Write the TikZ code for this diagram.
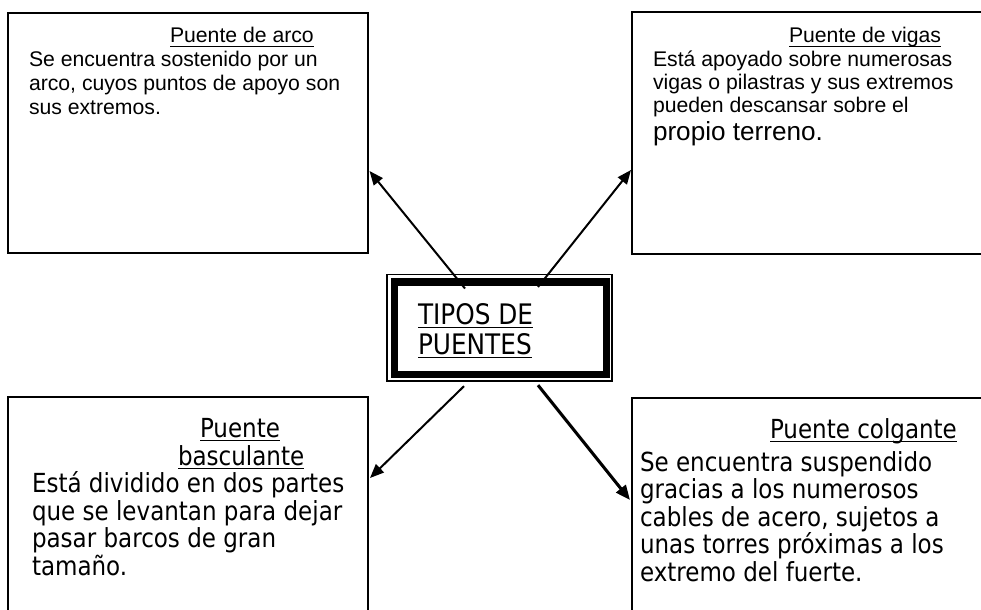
\documentclass[tikz,border=0pt]{standalone}
\usepackage{fontspec}
\setmainfont{Liberation Sans}
\newfontfamily\tah[FakeStretch=0.876]{DejaVu Sans}
\usetikzlibrary{arrows.meta,calc}
\newsavebox\ulbox
\newcommand\myul[1]{\sbox\ulbox{#1}\rlap{\rule[-3pt]{\wd\ulbox}{1.1pt}}\usebox\ulbox}
\newcommand\fA{\fontsize{15.9pt}{19pt}\selectfont}
\newcommand\fAbig{\fontsize{19.6pt}{23pt}\selectfont}
\newcommand\fT{\tah\fontsize{19.7pt}{23pt}\selectfont}
\newcommand\fTc{\tah\fontsize{21.2pt}{24pt}\selectfont}
\begin{document}
\begin{tikzpicture}[x=0.75pt,y=-0.75pt,
  box/.style={draw,line width=1.5pt,outer sep=0pt,inner sep=0pt,anchor=north west},
  txt/.style={inner sep=0pt,outer sep=0pt,anchor=base west},
  arr/.style={line width=1.5pt,-{Triangle[length=10.5pt,width=8.5pt]}},
  arrb/.style={line width=2.3pt,-{Triangle[length=11pt,width=9pt]}}]
\useasboundingbox (0,0) rectangle (981,610);
\clip (0,0) rectangle (981,610);
% boxes
\node[box,minimum width=270pt,minimum height=180pt] (tl) at (8,13) {};
\node[box,minimum width=276pt,minimum height=181.5pt] (tr) at (632,12) {};
\node[box,minimum width=270pt,minimum height=182pt] (bl) at (8,397) {};
\node[box,minimum width=276pt,minimum height=181.5pt] (br) at (632,398) {};
% center
\node[box,line width=1.2pt,minimum width=168.75pt,minimum height=80pt] (c) at (387,274.5) {};
\draw[line width=5.5pt] ($(c.north west)+(7.5,7.5)$) rectangle ($(c.south east)+(-5.5,-6.5)$);
\node[txt,font=\fTc] (c1) at (418,324) {\myul{TIPOS DE}};
\node[txt,font=\fTc] (c2) at (418,354) {\myul{PUENTES}};
% top-left text
\node[txt,font=\fA] (tl0) at (170,43) {\myul{Puente de arco}};
\node[txt,font=\fA] (tl1) at (29,67) {Se encuentra sostenido por un};
\node[txt,font=\fA] (tl2) at (29,90.5) {arco, cuyos puntos de apoyo son};
\node[txt,font=\fA] (tl3) at (29,114) {sus extremos.};
% top-right text
\node[txt,font=\fA] (tr0) at (789,43) {\myul{Puente de vigas}};
\node[txt,font=\fA] (tr1) at (653,66) {Está apoyado sobre numerosas};
\node[txt,font=\fA] (tr2) at (653,89.5) {vigas o pilastras y sus extremos};
\node[txt,font=\fA] (tr3) at (653,113) {pueden descansar sobre el};
\node[txt,font=\fAbig] (tr4) at (653,140) {propio terreno.};
% bottom-left text
\node[txt,font=\fT] (bl0) at (200,437) {\myul{Puente}};
\node[txt,font=\fT] (bl1) at (178,465) {\myul{basculante}};
\node[txt,font=\fT] (bl2) at (32,492) {Está dividido en dos partes};
\node[txt,font=\fT] (bl3) at (32,520) {que se levantan para dejar};
\node[txt,font=\fT] (bl4) at (32,547) {pasar barcos de gran};
\node[txt,font=\fT] (bl5) at (32,575) {tamaño.};
% bottom-right text
\node[txt,font=\fT] (br0) at (770,438) {\myul{Puente colgante}};
\node[txt,font=\fT] (br1) at (640,471) {Se encuentra suspendido};
\node[txt,font=\fT] (br2) at (640,498) {gracias a los numerosos};
\node[txt,font=\fT] (br3) at (640,526) {cables de acero, sujetos a};
\node[txt,font=\fT] (br4) at (640,553) {unas torres próximas a los};
\node[txt,font=\fT] (br5) at (640,581) {extremo del fuerte.};
% connector ends
\coordinate (s1) at ($(c.north west)+(78,14)$);
\coordinate (s2) at ($(c.north west)+(151,12.5)$);
\coordinate (s3) at ($(c.south west)+(77,5)$);
\coordinate (s4) at ($(c.south west)+(151,4)$);
\coordinate (e1) at ($(tl.north east)+(1.5,158)$);
\coordinate (e2) at ($(tr.north west)+(-1,158)$);
\coordinate (e3) at ($(bl.north east)+(2,81)$);
\coordinate (e4) at ($(br.north west)+(-2,102)$);
\draw[arr] (s1) -- (e1);
\draw[arr] (s2) -- (e2);
\draw[arr] (s3) -- (e3);
\draw[arrb] (s4) -- (e4);
\end{tikzpicture}
\end{document}
